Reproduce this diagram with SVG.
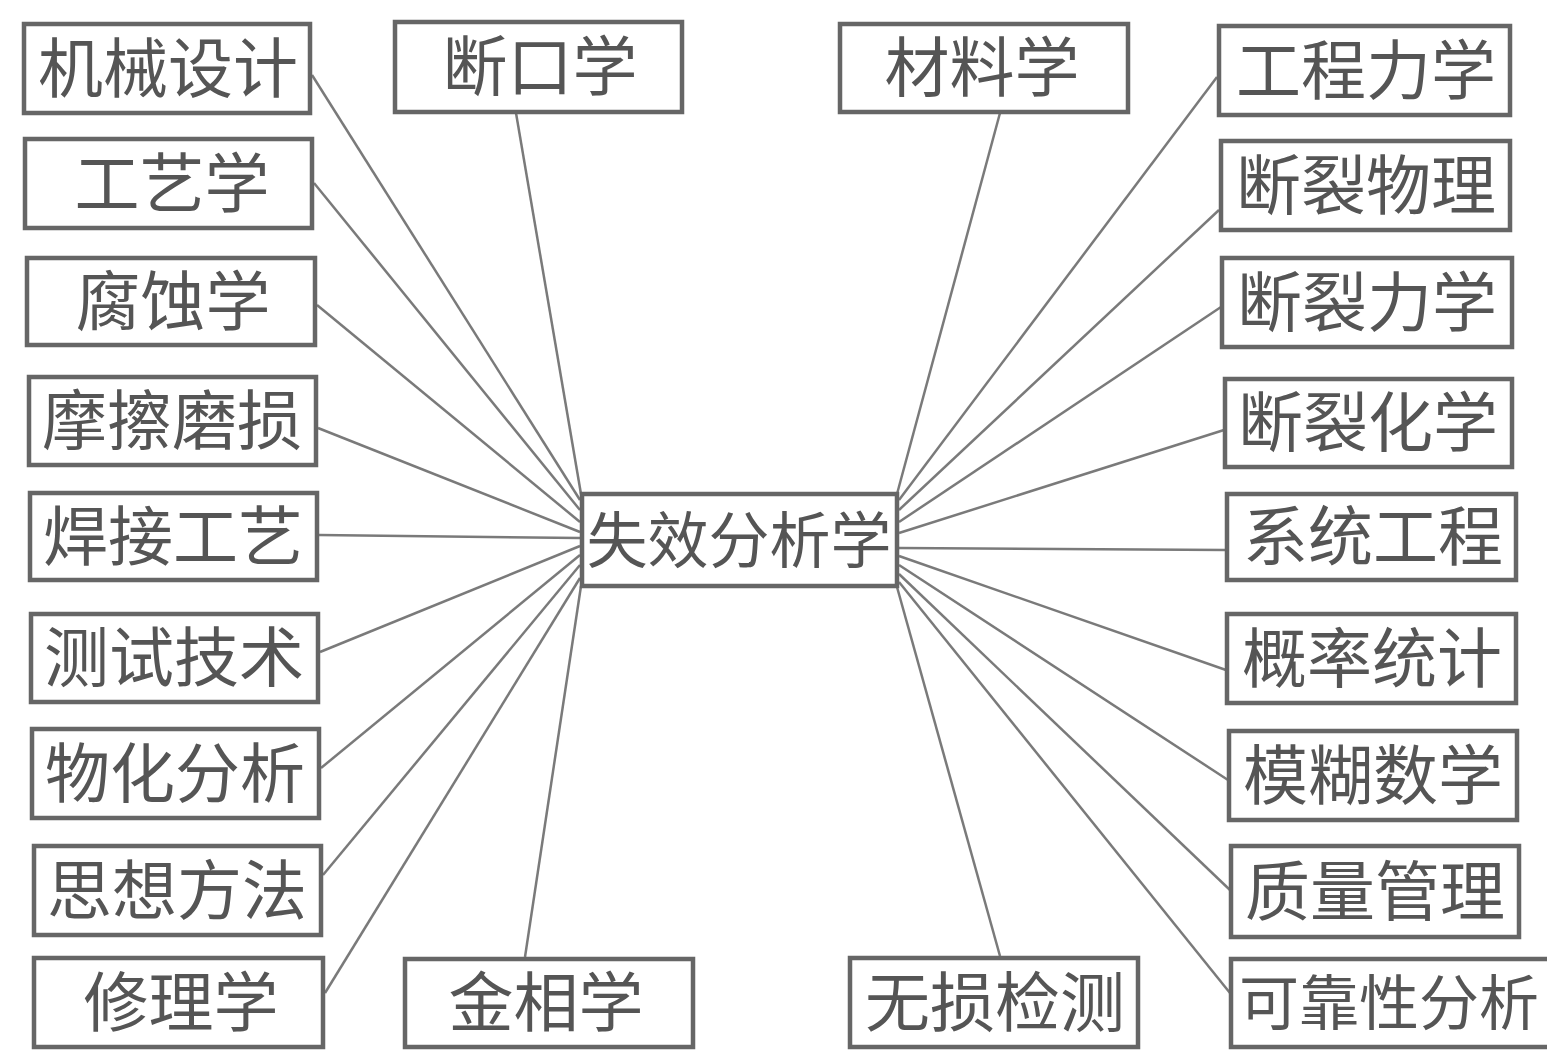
<svg xmlns="http://www.w3.org/2000/svg" width="1547" height="1063" viewBox="0 0 1547 1063">
<style>
.box{fill:#fff;stroke:#666;stroke-width:4.5}
.t{font-family:"Noto Sans CJK SC","Noto Sans CJK TC",sans-serif;font-size:65px;fill:#555;text-anchor:middle}
.c line{stroke:#7a7a7a;stroke-width:2.5}
</style>
<rect width="1547" height="1063" fill="#fff"/>
<g id="connectors" class="c">
<line x1="312" y1="75" x2="580" y2="500"/>
<line x1="314" y1="183" x2="580" y2="510"/>
<line x1="317" y1="305" x2="580" y2="522"/>
<line x1="318" y1="428" x2="580" y2="532"/>
<line x1="319" y1="535" x2="580" y2="538"/>
<line x1="320" y1="652" x2="580" y2="546"/>
<line x1="321" y1="768" x2="580" y2="555"/>
<line x1="323" y1="875" x2="580" y2="565"/>
<line x1="325" y1="993" x2="580" y2="578"/>
<line x1="516" y1="113" x2="581" y2="494"/>
<line x1="525" y1="957" x2="581" y2="586"/>
<line x1="1000" y1="113" x2="897" y2="494"/>
<line x1="1217" y1="77" x2="899" y2="500"/>
<line x1="1219" y1="210" x2="899" y2="510"/>
<line x1="1221" y1="307" x2="899" y2="522"/>
<line x1="1224" y1="430" x2="899" y2="533"/>
<line x1="1226" y1="550" x2="899" y2="548"/>
<line x1="1226" y1="670" x2="899" y2="556"/>
<line x1="1228" y1="780" x2="899" y2="565"/>
<line x1="1230" y1="890" x2="899" y2="574"/>
<line x1="1230" y1="993" x2="899" y2="582"/>
<line x1="1000" y1="956" x2="897" y2="587"/>
</g>
<g id="n-center"><rect class="box" x="582" y="494" width="315" height="92"/><text class="t" x="739" y="563" style="font-size:61px">失效分析学</text></g>
<g id="n-jixie"><rect class="box" x="24" y="24" width="286" height="89"/><text class="t" x="168" y="92">机械设计</text></g>
<g id="n-gongyi"><rect class="box" x="25" y="139" width="287" height="89"/><text class="t" x="172" y="207">工艺学</text></g>
<g id="n-fushi"><rect class="box" x="27" y="258" width="288" height="87"/><text class="t" x="173" y="325">腐蚀学</text></g>
<g id="n-mocha"><rect class="box" x="29" y="377" width="287" height="88"/><text class="t" x="172" y="444">摩擦磨损</text></g>
<g id="n-hanjie"><rect class="box" x="30" y="493" width="287" height="87"/><text class="t" x="173" y="560">焊接工艺</text></g>
<g id="n-ceshi"><rect class="box" x="31" y="614" width="287" height="88"/><text class="t" x="174" y="681">测试技术</text></g>
<g id="n-wuhua"><rect class="box" x="32" y="729" width="287" height="89"/><text class="t" x="175" y="797">物化分析</text></g>
<g id="n-sixiang"><rect class="box" x="34" y="846" width="287" height="89"/><text class="t" x="177" y="914">思想方法</text></g>
<g id="n-xiuli"><rect class="box" x="34" y="958" width="289" height="89"/><text class="t" x="181" y="1026">修理学</text></g>
<g id="n-duankou"><rect class="box" x="395" y="22" width="287" height="90"/><text class="t" x="540" y="90">断口学</text></g>
<g id="n-cailiao"><rect class="box" x="840" y="24" width="288" height="88"/><text class="t" x="982" y="91">材料学</text></g>
<g id="n-jinxiang"><rect class="box" x="405" y="959" width="288" height="88"/><text class="t" x="546" y="1026">金相学</text></g>
<g id="n-wusun"><rect class="box" x="850" y="958" width="288" height="89"/><text class="t" x="995" y="1026">无损检测</text></g>
<g id="n-gongcheng"><rect class="box" x="1219" y="26" width="291" height="89"/><text class="t" x="1366" y="94">工程力学</text></g>
<g id="n-wuli"><rect class="box" x="1221" y="141" width="289" height="89"/><text class="t" x="1366" y="209">断裂物理</text></g>
<g id="n-lixue"><rect class="box" x="1222" y="258" width="290" height="89"/><text class="t" x="1367" y="326">断裂力学</text></g>
<g id="n-huaxue"><rect class="box" x="1225" y="379" width="287" height="88"/><text class="t" x="1368" y="446">断裂化学</text></g>
<g id="n-xitong"><rect class="box" x="1227" y="494" width="289" height="86"/><text class="t" x="1373" y="560">系统工程</text></g>
<g id="n-gailv"><rect class="box" x="1227" y="614" width="289" height="89"/><text class="t" x="1372" y="682">概率统计</text></g>
<g id="n-mohu"><rect class="box" x="1229" y="731" width="288" height="89"/><text class="t" x="1373" y="799">模糊数学</text></g>
<g id="n-zhiliang"><rect class="box" x="1231" y="846" width="288" height="91"/><text class="t" x="1375" y="915">质量管理</text></g>
<g id="n-kekao"><rect class="box" x="1231" y="959" width="320" height="88"/><text class="t" x="1389" y="1025" style="font-size:60px">可靠性分析</text></g>
</svg>
